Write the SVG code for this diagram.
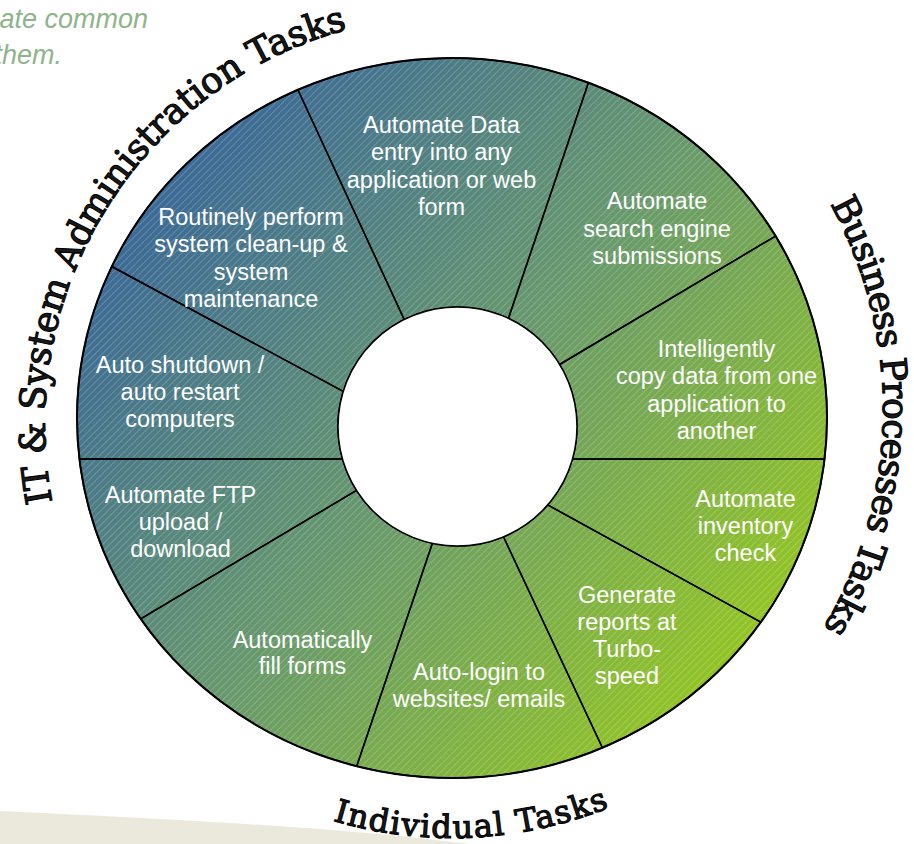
<svg xmlns="http://www.w3.org/2000/svg" width="914" height="844" viewBox="0 0 914 844">
<defs>
<linearGradient id="g" gradientUnits="userSpaceOnUse" x1="130" y1="160" x2="770" y2="690">
<stop offset="0" stop-color="#37649b"/>
<stop offset="0.5" stop-color="#68996d"/>
<stop offset="1" stop-color="#97c91c"/>
</linearGradient>
<pattern id="hatch" width="5" height="5" patternUnits="userSpaceOnUse" patternTransform="rotate(45)">
<rect x="2" y="0" width="0.7" height="5" fill="#fff" fill-opacity="0.28"/>
</pattern>
<path id="arcL" d="M 52.3,501.8 A 410 410 0 0 1 348.9,29.0"/>
<path id="arcR" d="M 830.1,203.8 A 428 428 0 0 1 822.2,629.8"/>
<path id="arcB" d="M 332.7,820.7 A 420 420 0 0 0 611.4,806.6"/>
</defs>
<style>
.seg{fill:none;stroke:#000;stroke-width:1.5;stroke-linejoin:round}
.lbl{font-family:"Liberation Sans",Arial,sans-serif;font-size:23.5px;fill:#fff;text-anchor:middle}
.arc{font-family:"DejaVu Serif","Liberation Serif",serif;font-size:36px;fill:#1a1a1a;stroke:#000;stroke-width:1.1}
.note{font-family:"Liberation Sans",Arial,sans-serif;font-style:italic;font-size:27px;fill:#8fb48c;text-anchor:end}
</style>
<rect width="914" height="844" fill="#fff"/>
<path d="M0,811 C150,818 300,826 400,836 L470,844 L0,844 Z" fill="#ebe8dc"/>
<text class="note" x="148" y="28">ate common</text>
<text class="note" x="62" y="64">them.</text>

<g id="wheel-bg">
<ellipse cx="452" cy="418" rx="375" ry="360" fill="url(#g)"/>
<ellipse cx="452" cy="418" rx="375" ry="360" fill="url(#hatch)"/>
</g>

<g id="node-data-entry">
<path class="seg" d="M 404.2,319.5 L 297.9,89.8 A 375 360 0 0 1 588.4,82.7 L 508.4,318.4 A 119.5 119.5 0 0 0 404.2,319.5 Z"/>
<text class="lbl"><tspan x="441.5" y="133">Automate Data</tspan><tspan x="441.5" y="160.3">entry into any</tspan><tspan x="441.5" y="187.6">application or web</tspan><tspan x="441.5" y="215">form</tspan></text>
</g>
<g id="node-search-engine">
<path class="seg" d="M 508.4,318.4 L 588.4,82.7 A 375 360 0 0 1 775.6,236.1 L 559.6,364.5 A 119.5 119.5 0 0 0 508.4,318.4 Z"/>
<text class="lbl"><tspan x="657" y="209">Automate</tspan><tspan x="657" y="236.5">search engine</tspan><tspan x="657" y="264">submissions</tspan></text>
</g>
<g id="node-copy-data">
<path class="seg" d="M 559.6,364.5 L 775.6,236.1 A 375 360 0 0 1 824.6,459 L 572.5,459 A 119.5 119.5 0 0 0 559.6,364.5 Z"/>
<text class="lbl"><tspan x="716.5" y="357">Intelligently</tspan><tspan x="716.5" y="384.3">copy data from one</tspan><tspan x="716.5" y="411.7">application to</tspan><tspan x="716.5" y="438.5">another</tspan></text>
</g>
<g id="node-inventory">
<path class="seg" d="M 572.5,459 L 824.6,459 A 375 360 0 0 1 760.8,622.2 L 547.7,504.9 A 119.5 119.5 0 0 0 572.5,459 Z"/>
<text class="lbl"><tspan x="745.5" y="507">Automate</tspan><tspan x="745.5" y="534">inventory</tspan><tspan x="745.5" y="561">check</tspan></text>
</g>
<g id="node-reports">
<path class="seg" d="M 547.7,504.9 L 760.8,622.2 A 375 360 0 0 1 602.4,747.8 L 503.5,536.8 A 119.5 119.5 0 0 0 547.7,504.9 Z"/>
<text class="lbl"><tspan x="627" y="603">Generate</tspan><tspan x="627" y="630">reports at</tspan><tspan x="627" y="657">Turbo-</tspan><tspan x="627" y="684">speed</tspan></text>
</g>
<g id="node-auto-login">
<path class="seg" d="M 503.5,536.8 L 602.4,747.8 A 375 360 0 0 1 356.7,766.2 L 432.4,543.3 A 119.5 119.5 0 0 0 503.5,536.8 Z"/>
<text class="lbl"><tspan x="479" y="680">Auto-login to</tspan><tspan x="479" y="707">websites/ emails</tspan></text>
</g>
<g id="node-fill-forms">
<path class="seg" d="M 432.4,543.3 L 356.7,766.2 A 375 360 0 0 1 140.7,618.8 L 356.5,490.4 A 119.5 119.5 0 0 0 432.4,543.3 Z"/>
<text class="lbl"><tspan x="302.5" y="648">Automatically</tspan><tspan x="302.5" y="674">fill forms</tspan></text>
</g>
<g id="node-ftp">
<path class="seg" d="M 356.5,490.4 L 140.7,618.8 A 375 360 0 0 1 79.4,459 L 342.5,459 A 119.5 119.5 0 0 0 356.5,490.4 Z"/>
<text class="lbl"><tspan x="180.5" y="503">Automate FTP</tspan><tspan x="180.5" y="530">upload /</tspan><tspan x="180.5" y="557">download</tspan></text>
</g>
<g id="node-shutdown">
<path class="seg" d="M 342.5,459 L 79.4,459 A 375 360 0 0 1 111.8,266.5 L 343.2,391.4 A 119.5 119.5 0 0 0 342.5,459 Z"/>
<text class="lbl"><tspan x="180" y="373">Auto shutdown /</tspan><tspan x="180" y="400">auto restart</tspan><tspan x="180" y="427">computers</tspan></text>
</g>
<g id="node-cleanup">
<path class="seg" d="M 343.2,391.4 L 111.8,266.5 A 375 360 0 0 1 297.9,89.8 L 404.2,319.5 A 119.5 119.5 0 0 0 343.2,391.4 Z"/>
<text class="lbl"><tspan x="251" y="225">Routinely perform</tspan><tspan x="251" y="252.3">system clean-up &amp;</tspan><tspan x="251" y="279.6">system</tspan><tspan x="251" y="307">maintenance</tspan></text>
</g>

<g id="wheel-rims">
<circle cx="457.5" cy="426.5" r="119.5" fill="#fff" stroke="#000" stroke-width="1.5"/>
<ellipse cx="452" cy="418" rx="375" ry="360" fill="none" stroke="#000" stroke-width="2"/>
</g>

<g id="group-it">
<text class="arc"><textPath href="#arcL" textLength="612" lengthAdjust="spacing">IT &amp; System Administration Tasks</textPath></text>
</g>
<g id="group-business">
<text class="arc"><textPath href="#arcR" textLength="444" lengthAdjust="spacing">Business Processes Tasks</textPath></text>
</g>
<g id="group-individual">
<text class="arc" style="font-size:32px"><textPath href="#arcB" textLength="282" lengthAdjust="spacing">Individual Tasks</textPath></text>
</g>
<g id="connectors"/>
</svg>
